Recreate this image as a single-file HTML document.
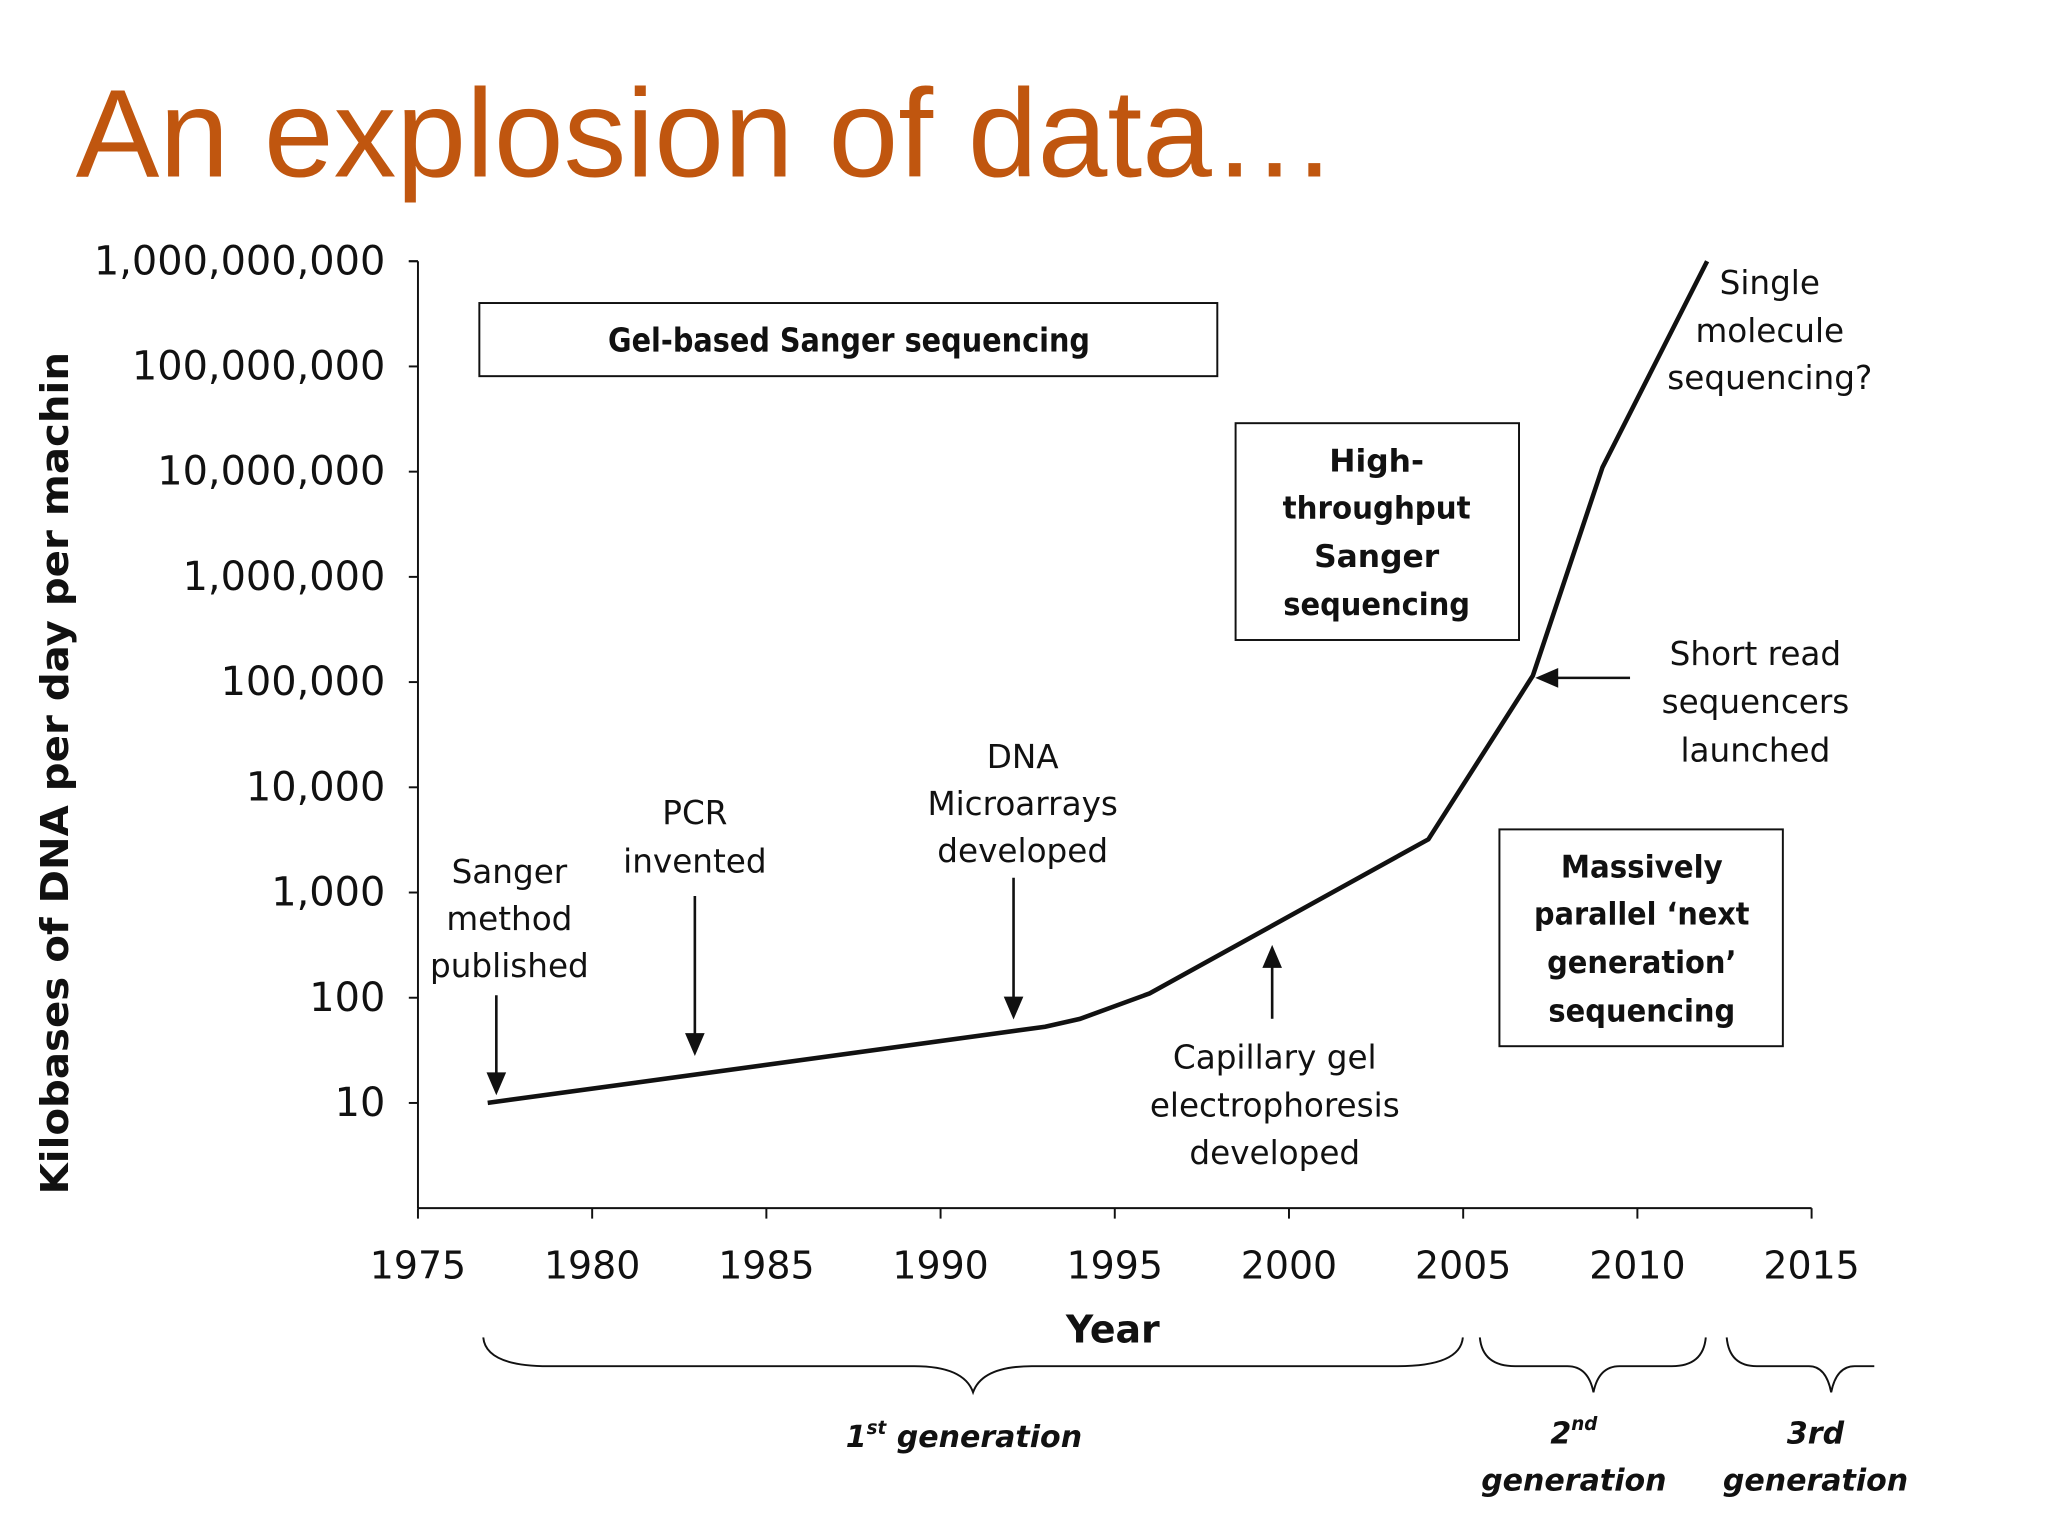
<!DOCTYPE html>
<html><head><meta charset="utf-8"><style>
html,body{margin:0;padding:0;background:#fff;}
svg{display:block;}
text{font-family:"DejaVu Sans","Liberation Sans",sans-serif;fill:#111;}
</style></head><body>
<svg id="chart" width="2048" height="1536" viewBox="0 0 1568 1176" xmlns="http://www.w3.org/2000/svg">
<rect width="1568" height="1176" fill="#fff"/>
<text x="58" y="135" style="font-family:'Liberation Sans',sans-serif;font-size:96px;fill:#C0560F;">An explosion of data…</text>
<g id="axes"></g>
<g id="marks"></g>
<text transform="translate(52,592) rotate(-90)" text-anchor="middle" textLength="645" lengthAdjust="spacingAndGlyphs" style="font-size:29px;font-weight:bold;">Kilobases of DNA per day per machin</text>
<text x="852" y="1028" text-anchor="middle" style="font-size:29px;font-weight:bold;">Year</text>

<rect x="367" y="232" width="565" height="56" fill="none" stroke="#111" stroke-width="1.5"/>
<text x="650" y="269" text-anchor="middle" textLength="369" lengthAdjust="spacingAndGlyphs" style="font-size:25px;font-weight:bold;">Gel-based Sanger sequencing</text>

<rect x="946" y="324" width="217" height="166" fill="none" stroke="#111" stroke-width="1.5"/>
<g style="font-size:24px;font-weight:bold;" text-anchor="middle">
<text x="1054" y="361">High-</text><text x="1054" y="397" textLength="144" lengthAdjust="spacingAndGlyphs">throughput</text><text x="1054" y="434">Sanger</text><text x="1054" y="471" textLength="143" lengthAdjust="spacingAndGlyphs">sequencing</text></g>

<rect x="1148" y="635" width="217" height="166" fill="none" stroke="#111" stroke-width="1.5"/>
<g style="font-size:24px;font-weight:bold;" text-anchor="middle">
<text x="1257" y="672" textLength="124" lengthAdjust="spacingAndGlyphs">Massively</text><text x="1257" y="708" textLength="165" lengthAdjust="spacingAndGlyphs">parallel ‘next</text><text x="1257" y="745" textLength="145" lengthAdjust="spacingAndGlyphs">generation’</text><text x="1257" y="782" textLength="143" lengthAdjust="spacingAndGlyphs">sequencing</text></g>

<g style="font-size:25px;" text-anchor="middle">
<text x="390" y="676">Sanger</text><text x="390" y="712">method</text><text x="390" y="748">published</text>
<text x="532" y="631">PCR</text><text x="532" y="668">invented</text>
<text x="783" y="588">DNA</text><text x="783" y="624">Microarrays</text><text x="783" y="660">developed</text>
<text x="976" y="818">Capillary gel</text><text x="976" y="855">electrophoresis</text><text x="976" y="891">developed</text>
<text x="1344" y="509">Short read</text><text x="1344" y="546">sequencers</text><text x="1344" y="583">launched</text>
<text x="1355" y="225">Single</text><text x="1355" y="262">molecule</text><text x="1355" y="298">sequencing?</text>
</g>
<g stroke="#111" stroke-width="2" fill="#111">
<line x1="380" y1="762" x2="380" y2="826"/><polygon points="374,822 386,822 380,836"/>
<line x1="532" y1="686" x2="532" y2="796"/><polygon points="526,792 538,792 532,806"/>
<line x1="776" y1="672" x2="776" y2="768"/><polygon points="770,764 782,764 776,778"/>
<line x1="974" y1="780" x2="974" y2="736"/><polygon points="968,740 980,740 974,726"/>
<line x1="1248" y1="519" x2="1190" y2="519"/><polygon points="1192,513 1192,525 1178,519"/>
</g>

<g fill="none" stroke="#111" stroke-width="1.5">
<path d="M370,1024 Q372,1046 420,1046 L700,1046 Q738,1046 745,1066 Q752,1046 790,1046 L1070,1046 Q1118,1046 1120,1024"/>
<path d="M1133,1024 Q1135,1046 1160,1046 L1200,1046 Q1216,1046 1220,1066 Q1224,1046 1240,1046 L1280,1046 Q1304,1046 1306,1024"/>
<path d="M1322,1024 Q1324,1046 1345,1046 L1385,1046 Q1398,1046 1402,1066 Q1406,1046 1420,1046 L1435,1046"/>
</g>
<g style="font-size:23px;font-weight:bold;font-style:italic;" text-anchor="middle">
<text x="738" y="1108">1<tspan dy="-10" style="font-size:14px;">st</tspan><tspan dy="10"> generation</tspan></text>
<text x="1205" y="1105">2<tspan dy="-10" style="font-size:14px;">nd</tspan></text>
<text x="1205" y="1141">generation</text>
<text x="1390" y="1105">3rd</text>
<text x="1390" y="1141">generation</text>
</g>

<script>
const years = [1977, 1993, 1994, 1996, 2004, 2007, 2009, 2012];
const kilobases = [10, 53, 63, 110, 3200, 115000, 11000000, 1000000000];
const xTicks = [1975, 1980, 1985, 1990, 1995, 2000, 2005, 2010, 2015];
const yTicks = [10, 100, 1000, 10000, 100000, 1000000, 10000000, 100000000, 1000000000];
const yTickLabels = ["10", "100", "1,000", "10,000", "100,000", "1,000,000", "10,000,000", "100,000,000", "1,000,000,000"];

const NS = "http://www.w3.org/2000/svg";
const x0 = 320, x1 = 1387, yBottom = 925, yTop = 200;
function xs(yr) { return x0 + (yr - 1975) / 40 * (x1 - x0); }
function ys(v) { return yBottom - Math.log10(v) / 9 * (yBottom - yTop); }
function mk(tag, attrs) { const e = document.createElementNS(NS, tag); for (const k in attrs) e.setAttribute(k, attrs[k]); return e; }

const axes = document.getElementById('axes');
const yAxis = mk('line', {x1: x0, y1: yTop, x2: x0, y2: yBottom, stroke: '#111', 'stroke-width': 1.5});


axes.appendChild(yAxis);
const xAxis = mk('line', {x1: x0, y1: yBottom, x2: x1, y2: yBottom, stroke: '#111', 'stroke-width': 1.5});


axes.appendChild(xAxis);

yTicks.forEach((v, i) => {
  const y = ys(v);
  const t = mk('line', {x1: x0 - 7, y1: y, x2: x0, y2: y, stroke: '#111', 'stroke-width': 1.5});
  
  
  axes.appendChild(t);
  const l = mk('text', {x: 295, y: y + 10, 'text-anchor': 'end', style: 'font-size:30.5px;'});
  
  
  l.textContent = yTickLabels[i];
  axes.appendChild(l);
});
const topTick = mk('line', {x1: x0 - 7, y1: yTop, x2: x0, y2: yTop, stroke: '#111', 'stroke-width': 1.5});


axes.appendChild(topTick);

xTicks.forEach(yr => {
  const x = xs(yr);
  const t = mk('line', {x1: x, y1: yBottom, x2: x, y2: yBottom + 8, stroke: '#111', 'stroke-width': 1.5});
  
  
  axes.appendChild(t);
  const l = mk('text', {x: x, y: 979, 'text-anchor': 'middle', style: 'font-size:29px;'});
  
  
  l.textContent = yr;
  axes.appendChild(l);
});

const pts = years.map((yr, i) => xs(yr).toFixed(1) + ',' + ys(kilobases[i]).toFixed(1)).join(' ');
const line = mk('polyline', {points: pts, fill: 'none', stroke: '#111', 'stroke-width': 3.5, 'stroke-linejoin': 'miter'});


document.getElementById('marks').appendChild(line);
</script>
</svg>
</body></html>
